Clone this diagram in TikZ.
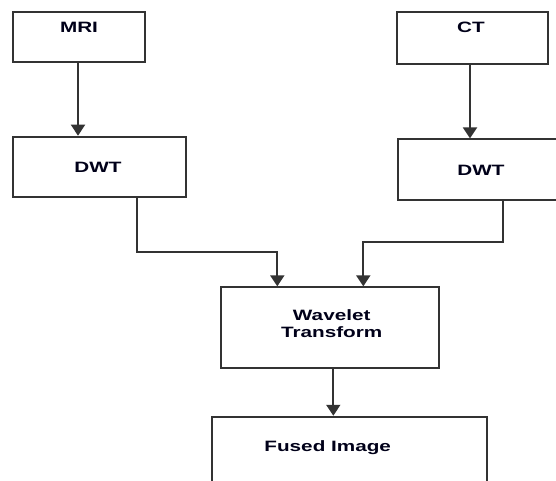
\documentclass[tikz,border=0pt]{standalone}
\usepackage{fontspec}
\setmainfont{Liberation Sans}
\usetikzlibrary{arrows.meta,calc}
\definecolor{linec}{HTML}{333333}
\newcommand{\stxt}[1]{\scalebox{1.38}[1]{#1}}
\tikzset{
  box/.style={draw=linec, line width=1.9pt, fill=white, inner sep=0pt},
  lbl/.style={font=\fontsize{15}{17}\selectfont\bfseries, inner sep=0pt, text=black!90!blue},
  conn/.style={draw=linec, line width=1.9pt, -{Triangle[width=14pt,length=11pt]}},
}
\begin{document}
\begin{tikzpicture}[x=1pt,y=-1pt]
\useasboundingbox (0,0) rectangle (556,480);
\clip (0,0) rectangle (556,480);
\fill[white] (0,0) rectangle (556,480);
% boxes
\node[box, minimum width=132.3pt, minimum height=50pt] (mri) at (78.8,37) {};
\node[box, minimum width=151pt, minimum height=52pt] (ct) at (472.2,38) {};
\node[box, minimum width=173pt, minimum height=60.3pt] (dwtl) at (99.2,166.8) {};
\node[box, minimum width=166.6pt, minimum height=60.7pt] (dwtr) at (481,169.7) {};
\node[box, minimum width=218.6pt, minimum height=81pt] (wav) at (330,327.8) {};
\node[box, minimum width=274.4pt, minimum height=100pt] (fus) at (349.5,466.7) {};
% labels
\node[lbl] (mrit) at (79,27) {\stxt{MRI}};
\node[lbl] (ctt) at (471,27.3) {\stxt{CT}};
\node[lbl] (dwtlt) at (98,167.7) {\stxt{DWT}};
\node[lbl] (dwtrt) at (481,170.7) {\stxt{DWT}};
\node[lbl] (wavt) at (331.7,325.5) {\stxt{\renewcommand{\arraystretch}{1}\begin{tabular}{@{}c@{}}Wavelet\\Transform\end{tabular}}};
\node[lbl] (fust) at (327.7,447.7) {\stxt{Fused Image}};
% connectors
\coordinate (lx) at (136.7,251.7);
\coordinate (lt) at (277.3,251.7);
\coordinate (rx) at (502.7,242.3);
\coordinate (rt) at (363.3,242.3);
\coordinate (mx) at (78,0);
\coordinate (cx) at (470,0);
\coordinate (wx) at (333.3,0);
\draw[conn] (mri.south -| mx) -- (dwtl.north -| mx);
\draw[conn] (ct.south -| cx) -- (dwtr.north -| cx);
\draw[conn] (dwtl.south -| lx) -- (lx) -- (lt) -- (wav.north -| lt);
\draw[conn] (dwtr.south -| rx) -- (rx) -- (rt) -- (wav.north -| rt);
\draw[conn] (wav.south -| wx) -- (fus.north -| wx);
\end{tikzpicture}
\end{document}
